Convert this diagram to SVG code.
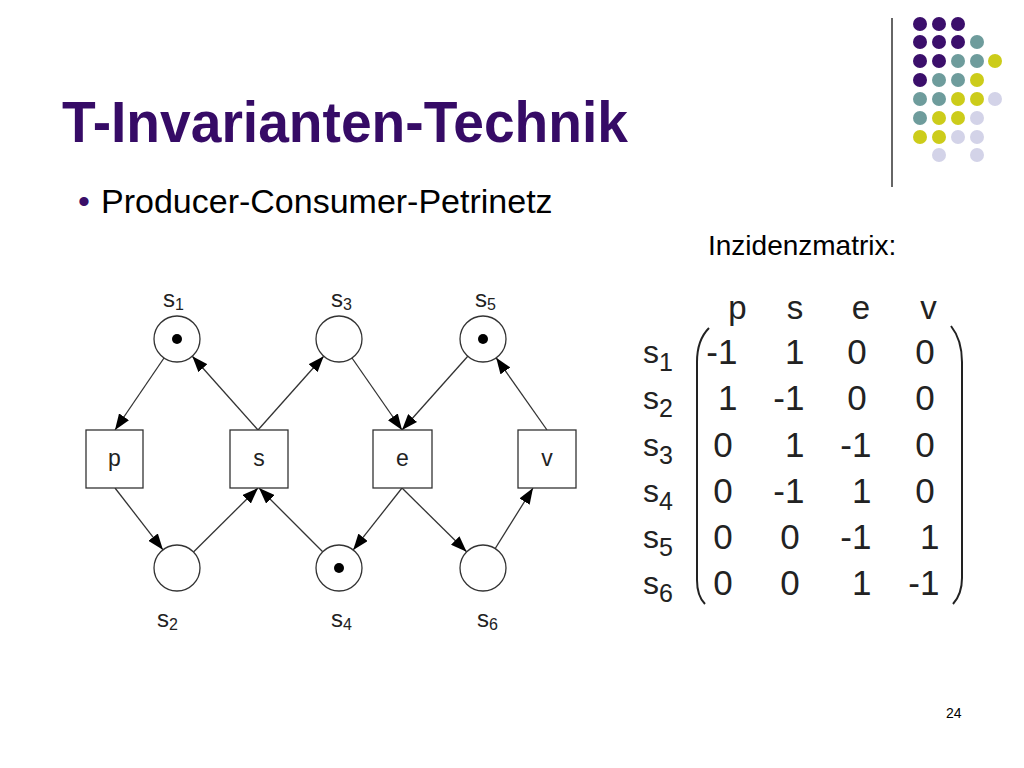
<svg xmlns="http://www.w3.org/2000/svg" width="1024" height="768" viewBox="0 0 1024 768">
<style>
.title{font-family:"Liberation Sans",Arial,sans-serif;font-weight:bold;font-size:58px;fill:#360b66}
.body{font-family:"Liberation Sans",Arial,sans-serif;fill:#000}
.pl{font-family:"Liberation Sans",Arial,sans-serif;font-size:24px;fill:#222}
.sub{font-size:16px}
.tl{font-family:"Liberation Sans",Arial,sans-serif;font-size:23px;fill:#222;text-anchor:middle}
.mh{font-family:"Liberation Sans",Arial,sans-serif;font-size:33px;fill:#222;text-anchor:middle}
.ml{font-family:"Liberation Sans",Arial,sans-serif;font-size:32px;fill:#222}
.msub{font-size:25px}
.mc{font-family:"Liberation Sans",Arial,sans-serif;font-size:35px;fill:#222;text-anchor:end}
.place{fill:#fff;stroke:#333;stroke-width:1.3}
.trans{fill:#fff;stroke:#333;stroke-width:1.3}
.tok{fill:#000}
.arc{fill:none;stroke:#333;stroke-width:1.3;marker-end:url(#ah)}
.paren{fill:none;stroke:#222;stroke-width:2}
.dp{fill:#3b0f6b}.dt{fill:#6e9c9c}.dy{fill:#cccc1a}.dl{fill:#d3d3e8}
</style>
<defs>
<marker id="ah" markerUnits="userSpaceOnUse" markerWidth="16" markerHeight="12" refX="16" refY="6" orient="auto">
<path d="M0,0 L16,6 L0,12 z" fill="#000"/>
</marker>
</defs>
<rect width="1024" height="768" fill="#fff"/>

<g id="decoration">
<line x1="892" y1="18" x2="892" y2="187" stroke="#333" stroke-width="1.5"/>
<circle class="dp" cx="920" cy="24" r="7"/><circle class="dp" cx="939" cy="24" r="7"/><circle class="dp" cx="958" cy="24" r="7"/>
<circle class="dp" cx="920" cy="42" r="7"/><circle class="dp" cx="939" cy="42" r="7"/><circle class="dp" cx="958" cy="42" r="7"/><circle class="dt" cx="977" cy="42" r="7"/>
<circle class="dp" cx="920" cy="61" r="7"/><circle class="dp" cx="939" cy="61" r="7"/><circle class="dt" cx="958" cy="61" r="7"/><circle class="dt" cx="977" cy="61" r="7"/><circle class="dy" cx="995" cy="61" r="7"/>
<circle class="dp" cx="920" cy="80" r="7"/><circle class="dt" cx="939" cy="80" r="7"/><circle class="dt" cx="958" cy="80" r="7"/><circle class="dy" cx="977" cy="80" r="7"/>
<circle class="dt" cx="920" cy="99" r="7"/><circle class="dt" cx="939" cy="99" r="7"/><circle class="dy" cx="958" cy="99" r="7"/><circle class="dy" cx="977" cy="99" r="7"/><circle class="dl" cx="995" cy="99" r="7"/>
<circle class="dt" cx="920" cy="118" r="7"/><circle class="dy" cx="939" cy="118" r="7"/><circle class="dy" cx="958" cy="118" r="7"/><circle class="dl" cx="977" cy="118" r="7"/>
<circle class="dy" cx="920" cy="137" r="7"/><circle class="dy" cx="939" cy="137" r="7"/><circle class="dl" cx="958" cy="137" r="7"/><circle class="dl" cx="977" cy="137" r="7"/>
<circle class="dl" cx="939" cy="155" r="7"/><circle class="dl" cx="977" cy="155" r="7"/>
</g>

<g id="texts">
<text class="title" x="62" y="142" textLength="566" lengthAdjust="spacingAndGlyphs">T-Invarianten-Technik</text>
<text class="body" x="78" y="213" font-size="34" style="fill:#3a0f68">•</text>
<text class="body" x="101" y="213" font-size="34">Producer-Consumer-Petrinetz</text>
<text class="body" x="708" y="255" font-size="28">Inzidenzmatrix:</text>
<text class="body" x="946" y="718" font-size="14">24</text>
</g>

<g id="connectors">
<path class="arc" d="M164,358 L115,430"/>
<path class="arc" d="M258,430 L192.3,356.2"/>
<path class="arc" d="M258,430 L323.7,356.2"/>
<path class="arc" d="M352,358 L402,430"/>
<path class="arc" d="M468,356 L402,430"/>
<path class="arc" d="M547,430 L496.2,357.8"/>
<path class="arc" d="M115,488 L162.9,549.8"/>
<path class="arc" d="M193.5,552 L258,488"/>
<path class="arc" d="M322.7,551.7 L259,488"/>
<path class="arc" d="M402,488 L353.2,549.9"/>
<path class="arc" d="M402,488 L466.6,551.8"/>
<path class="arc" d="M495.2,548.5 L533,488"/>
</g>

<g id="s1"><circle class="place" cx="177" cy="339" r="23"/><circle class="tok" cx="177" cy="339" r="5"/><text class="pl" x="163" y="307">s<tspan class="sub" dy="3">1</tspan></text></g>
<g id="s3"><circle class="place" cx="339" cy="339" r="23"/><text class="pl" x="331" y="307">s<tspan class="sub" dy="3">3</tspan></text></g>
<g id="s5"><circle class="place" cx="483" cy="339" r="23"/><circle class="tok" cx="483" cy="339" r="5"/><text class="pl" x="475" y="307">s<tspan class="sub" dy="3">5</tspan></text></g>
<g id="s2"><circle class="place" cx="177" cy="568" r="23"/><text class="pl" x="157" y="627">s<tspan class="sub" dy="3">2</tspan></text></g>
<g id="s4"><circle class="place" cx="339" cy="568" r="23"/><circle class="tok" cx="339" cy="568" r="5"/><text class="pl" x="331" y="627">s<tspan class="sub" dy="3">4</tspan></text></g>
<g id="s6"><circle class="place" cx="483" cy="568" r="23"/><text class="pl" x="477" y="627">s<tspan class="sub" dy="3">6</tspan></text></g>

<g id="p"><rect class="trans" x="86" y="430" width="57" height="58"/><text class="tl" x="114.5" y="466">p</text></g>
<g id="s"><rect class="trans" x="230" y="430" width="58" height="58"/><text class="tl" x="259" y="466">s</text></g>
<g id="e"><rect class="trans" x="373" y="430" width="59" height="58"/><text class="tl" x="402.5" y="466">e</text></g>
<g id="v"><rect class="trans" x="518" y="430" width="58" height="58"/><text class="tl" x="547" y="466">v</text></g>

<g id="matrix">
<text class="mh" x="737.5" y="319">p</text>
<text class="mh" x="795" y="319">s</text>
<text class="mh" x="861" y="319">e</text>
<text class="mh" x="928.5" y="319">v</text>

<text class="ml" x="643" y="363">s<tspan class="msub" dy="8">1</tspan></text>
<text class="ml" x="643" y="409">s<tspan class="msub" dy="8">2</tspan></text>
<text class="ml" x="643" y="455.5">s<tspan class="msub" dy="8">3</tspan></text>
<text class="ml" x="643" y="502">s<tspan class="msub" dy="8">4</tspan></text>
<text class="ml" x="643" y="548">s<tspan class="msub" dy="8">5</tspan></text>
<text class="ml" x="643" y="594">s<tspan class="msub" dy="8">6</tspan></text>

<path class="paren" d="M709,328 Q697,340 697,362 L697,580 Q697,596 705,604"/>
<path class="paren" d="M951,326 Q962,340 962,362 L962,578 Q962,594 953,604"/>

<text class="mc" x="737.4" y="364">-1</text><text class="mc" x="804.4" y="364">1</text><text class="mc" x="866.7" y="364">0</text><text class="mc" x="934.7" y="364">0</text>
<text class="mc" x="737.4" y="410">1</text><text class="mc" x="804.4" y="410">-1</text><text class="mc" x="866.7" y="410">0</text><text class="mc" x="934.7" y="410">0</text>
<text class="mc" x="732.7" y="456.5">0</text><text class="mc" x="804.4" y="456.5">1</text><text class="mc" x="871.4" y="456.5">-1</text><text class="mc" x="934.7" y="456.5">0</text>
<text class="mc" x="732.7" y="503">0</text><text class="mc" x="804.4" y="503">-1</text><text class="mc" x="871.4" y="503">1</text><text class="mc" x="934.7" y="503">0</text>
<text class="mc" x="732.7" y="549">0</text><text class="mc" x="799.7" y="549">0</text><text class="mc" x="871.4" y="549">-1</text><text class="mc" x="939.4" y="549">1</text>
<text class="mc" x="732.7" y="595">0</text><text class="mc" x="799.7" y="595">0</text><text class="mc" x="871.4" y="595">1</text><text class="mc" x="939.4" y="595">-1</text>
</g>
</svg>
